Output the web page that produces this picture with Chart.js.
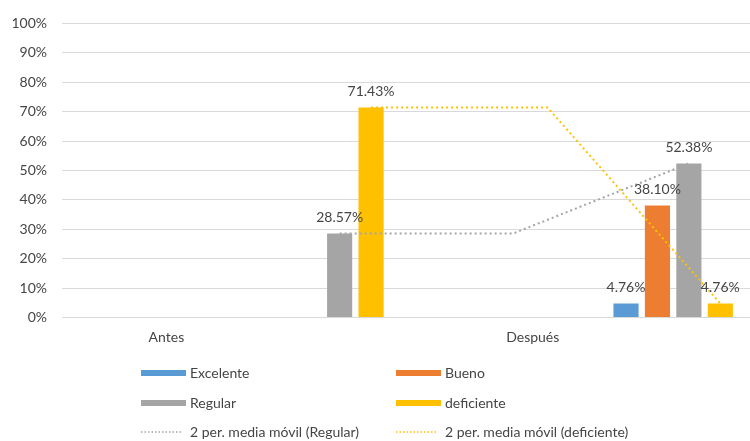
<!DOCTYPE html>
<html>
<head>
<meta charset="utf-8">
<script src="https://cdn.jsdelivr.net/npm/chart.js@4.4.1/dist/chart.umd.min.js"></script>
<style>
html,body{margin:0;padding:0;background:#fff;}
canvas{display:block;}
</style>
</head>
<body>
<canvas id="c" width="750" height="441"></canvas>
<script>
// ---- data ----
const categories = ['Antes', 'Después'];
const groupIndex = [1, 2];
const seriesNames = ['Excelente', 'Bueno', 'Regular', 'deficiente'];
const excelente = [0, 4.76];
const bueno = [0, 38.10];
const regular = [28.57, 52.38];
const deficiente = [71.43, 4.76];
const yTickValues = [0, 10, 20, 30, 40, 50, 60, 70, 80, 90, 100];
// category label positions on the value x axis
const categoryLabelAt = [0.549, 1.598];
// moving-average trendlines as drawn in the picture
const trendNames = ['2 per. media móvil (Regular)', '2 per. media móvil (deficiente)'];
const regularTrendX = [1.045, 1.542, 2.045];
const regularTrendY = [28.57, 28.57, 52.38];
const deficienteTrendX = [1.135, 1.640, 2.135];
const deficienteTrendY = [71.43, 71.43, 4.76];

// ---- styling ----
const barColors = ['#5B9BD5', '#ED7D31', '#A5A5A5', '#FFC000'];
const trendColors = ['#A5A5A5', '#FFC000'];
const FONT = 'Lato, "Open Sans", sans-serif';
const TEXT = '#454545';

const seriesValues = [excelente, bueno, regular, deficiente];
const toPts = (xs, ys) => xs.map((x, i) => ({x: x, y: ys[i]}));

const barSets = seriesNames.map((name, s) => ({
  type: 'bar',
  label: name,
  data: toPts(groupIndex, seriesValues[s]),
  backgroundColor: barColors[s],
  borderWidth: 0,
  categoryPercentage: 0.36,
  barPercentage: 0.8,
  order: 1
}));
const lineSets = [
  {label: trendNames[0], data: toPts(regularTrendX, regularTrendY), color: trendColors[0]},
  {label: trendNames[1], data: toPts(deficienteTrendX, deficienteTrendY), color: trendColors[1]}
].map(d => ({
  type: 'line',
  label: d.label,
  data: d.data,
  borderColor: d.color,
  backgroundColor: d.color,
  borderWidth: 2,
  borderDash: [2, 3],
  borderCapStyle: 'butt',
  pointRadius: 0,
  fill: false,
  tension: 0,
  order: 0
}));

const valueLabels = {
  id: 'valueLabels',
  afterDatasetsDraw(chart) {
    const ctx = chart.ctx;
    ctx.save();
    ctx.font = '14px ' + FONT;
    ctx.fillStyle = TEXT;
    ctx.textAlign = 'center';
    ctx.textBaseline = 'middle';
    chart.data.datasets.forEach((ds, di) => {
      if (ds.type !== 'bar') return;
      const meta = chart.getDatasetMeta(di);
      meta.data.forEach((el, i) => {
        const v = ds.data[i].y;
        if (!v) return;
        ctx.fillText(v.toFixed(2) + '%', el.x, el.y - 16);
      });
    });
    ctx.restore();
  }
};

const gridLegend = {
  id: 'gridLegend',
  afterDraw(chart) {
    const ctx = chart.ctx;
    const colX = [141, 396];
    const rowY = [373, 403, 432];
    ctx.save();
    ctx.font = '14px ' + FONT;
    ctx.textBaseline = 'middle';
    ctx.textAlign = 'left';
    chart.data.datasets.forEach((ds, i) => {
      const col = i % 2, row = Math.floor(i / 2);
      const x = colX[col], y = rowY[row];
      if (ds.type === 'bar') {
        ctx.fillStyle = ds.backgroundColor;
        ctx.fillRect(x, y - 3, 45, 6);
      } else {
        ctx.strokeStyle = ds.borderColor;
        ctx.lineWidth = 1.5;
        ctx.setLineDash([1.5, 2]);
        ctx.beginPath();
        ctx.moveTo(x, y);
        ctx.lineTo(x + 42, y);
        ctx.stroke();
        ctx.setLineDash([]);
      }
      ctx.fillStyle = TEXT;
      ctx.fillText(ds.label, x + 49, y);
    });
    ctx.restore();
  }
};

function make() {
  new Chart(document.getElementById('c'), {
    data: {datasets: barSets.concat(lineSets)},
    options: {
      responsive: false,
      animation: false,
      layout: {padding: {top: 17.5, bottom: 88.5, left: 0, right: 0}},
      plugins: {legend: {display: false}, tooltip: {enabled: false}},
      scales: {
        x: {
          type: 'linear',
          offset: false,
          min: 0.25,
          max: 2.22,
          afterBuildTicks: (s) => { s.ticks = categoryLabelAt.map(v => ({value: v})); },
          afterFit: (s) => { s.height = 35; },
          grid: {display: false, drawTicks: false, offset: false},
          border: {display: false},
          ticks: {
            padding: 12,
            autoSkip: false,
            maxRotation: 0,
            color: TEXT,
            font: {family: FONT, size: 14},
            callback: (v, i) => categories[i]
          }
        },
        y: {
          min: 0,
          max: 100,
          afterBuildTicks: (s) => { s.ticks = yTickValues.map(v => ({value: v})); },
          afterFit: (s) => { s.width = 62; },
          grid: {color: '#D9D9D9', lineWidth: 1, drawTicks: false},
          border: {display: false},
          ticks: {
            padding: 15,
            color: TEXT,
            font: {family: FONT, size: 14},
            callback: (v) => v + '%'
          }
        }
      }
    },
    plugins: [valueLabels, gridLegend]
  });
}
if (document.fonts && document.fonts.load) {
  document.fonts.load('14px Lato').then(make, make);
} else { make(); }
</script>
</body>
</html>
